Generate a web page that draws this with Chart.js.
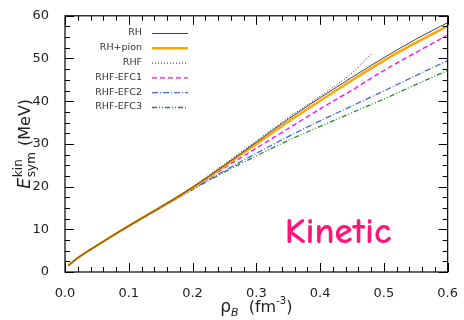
<!DOCTYPE html>
<html>
<head>
<meta charset="utf-8">
<script src="https://cdn.jsdelivr.net/npm/chart.js@4"></script>
<style>
  html, body { margin: 0; padding: 0; background: #fff; }
  #wrap { width: 464px; height: 320px; }
</style>
</head>
<body>
<div id="wrap"><canvas id="chart" width="464" height="320"></canvas></div>
<script>
// density grid (fm^-3)
const rho = [0.005, 0.02, 0.05, 0.1, 0.15, 0.2, 0.25, 0.3, 0.35, 0.4, 0.45, 0.5, 0.55, 0.6];
const rhoRHF = [0.005, 0.02, 0.05, 0.1, 0.15, 0.2, 0.25, 0.3, 0.35, 0.4, 0.45, 0.48];

// kinetic symmetry energy (MeV)
const eRH     = [1.5, 3.3, 6.2, 10.8, 15.2, 19.8, 25.0, 30.4, 35.8, 40.8, 45.6, 50.2, 54.5, 58.4];
const eRHpion = [1.5, 3.3, 6.2, 10.8, 15.2, 19.7, 24.8, 30.0, 35.2, 40.1, 44.9, 49.5, 53.7, 57.6];
const eRHF    = [1.5, 3.3, 6.2, 10.8, 15.3, 20.0, 25.3, 30.7, 36.1, 41.2, 46.6, 51.0];
const eEFC1   = [1.5, 3.3, 6.2, 10.8, 15.1, 19.6, 24.4, 29.0, 33.6, 38.2, 42.6, 47.2, 51.4, 55.5];
const eEFC2   = [1.5, 3.3, 6.2, 10.7, 15.0, 19.4, 23.7, 27.8, 31.7, 35.4, 38.9, 42.4, 46.0, 49.5];
const eEFC3   = [1.5, 3.3, 6.2, 10.7, 15.0, 19.3, 23.4, 27.2, 30.8, 34.1, 37.3, 40.5, 43.9, 47.2];

const labels = ['RH', 'RH+pion', 'RHF', 'RHF-EFC1', 'RHF-EFC2', 'RHF-EFC3'];
const xTicks = [0, 0.1, 0.2, 0.3, 0.4, 0.5, 0.6];
const yTicks = [0, 10, 20, 30, 40, 50, 60];

function pts(xs, ys) {
  return ys.map((y, i) => ({ x: xs[i], y: y }));
}

const FONT = 'DejaVu Sans';

// frame with inward ticks on all four sides
const framePlugin = {
  id: 'frame',
  afterDatasetsDraw(chart) {
    const ctx = chart.ctx;
    const a = chart.chartArea;
    const xs = chart.scales.x, ys = chart.scales.y;
    ctx.save();
    ctx.strokeStyle = '#000';
    ctx.lineWidth = 1;
    ctx.beginPath();
    for (let v = 0; v <= 0.6001; v += 0.02) {
      const px = Math.round(xs.getPixelForValue(v)) + 0.5;
      const major = Math.abs(v * 10 - Math.round(v * 10)) < 1e-6;
      const len = major ? 9 : 5;
      ctx.moveTo(px, a.bottom); ctx.lineTo(px, a.bottom - len);
      ctx.moveTo(px, a.top); ctx.lineTo(px, a.top + len);
    }
    for (let v = 0; v <= 60.001; v += 2.5) {
      const py = Math.round(ys.getPixelForValue(v)) + 0.5;
      const major = v % 10 === 0;
      const len = major ? 9 : 5;
      ctx.moveTo(a.left, py); ctx.lineTo(a.left + len, py);
      ctx.moveTo(a.right, py); ctx.lineTo(a.right - len, py);
    }
    ctx.stroke();
    ctx.lineWidth = 1.2;
    ctx.strokeRect(a.left, a.top, a.right - a.left, a.bottom - a.top);
    ctx.restore();
  }
};

// legend: right-aligned text, line sample to the right
const legendPlugin = {
  id: 'sideLegend',
  afterDatasetsDraw(chart) {
    const ctx = chart.ctx;
    ctx.save();
    ctx.font = '9.5px ' + FONT;
    ctx.textAlign = 'right';
    ctx.textBaseline = 'middle';
    chart.data.datasets.forEach((ds, i) => {
      const y = 33 + i * 14.8;
      ctx.fillStyle = '#333';
      ctx.fillText(ds.label, 142, y);
      ctx.strokeStyle = ds.borderColor;
      ctx.lineWidth = ds.borderWidth;
      ctx.setLineDash(ds.borderDash || []);
      ctx.beginPath();
      ctx.moveTo(152, y + 0.5);
      ctx.lineTo(188, y + 0.5);
      ctx.stroke();
    });
    ctx.restore();
  }
};

// axis titles with sub/superscripts and the "Kinetic" tag
const textPlugin = {
  id: 'texts',
  afterDraw(chart) {
    const ctx = chart.ctx;
    const a = chart.chartArea;
    ctx.save();
    ctx.fillStyle = '#222';
    ctx.textBaseline = 'alphabetic';

    // y title
    ctx.translate(30, (a.top + a.bottom) / 2);
    ctx.rotate(-Math.PI / 2);
    ctx.font = 'italic 17px ' + FONT; const wE = ctx.measureText('E').width;
    ctx.font = '12px ' + FONT; const wS = Math.max(ctx.measureText('kin').width, ctx.measureText('sym').width);
    ctx.font = '16px ' + FONT; const wM = ctx.measureText(' (MeV)').width;
    const x0 = -(wE + wS + 2 + wM) / 2;
    ctx.textAlign = 'left';
    ctx.font = 'italic 17px ' + FONT; ctx.fillText('E', x0, 0);
    ctx.font = '12px ' + FONT;
    ctx.fillText('kin', x0 + wE + 1, -8);
    ctx.fillText('sym', x0 + wE + 1, 5);
    ctx.font = '16px ' + FONT; ctx.fillText(' (MeV)', x0 + wE + wS + 2, 0);
    ctx.setTransform(1, 0, 0, 1, 0, 0);

    // x title
    const cx = (a.left + a.right) / 2, by = 312;
    ctx.font = '17px ' + FONT; const wr = ctx.measureText('\u03c1').width;
    ctx.font = 'italic 11px ' + FONT; const wb = ctx.measureText('B').width;
    ctx.font = '16px ' + FONT; const wf = ctx.measureText('  (fm').width;
    ctx.font = '10px ' + FONT; const w3 = ctx.measureText('-3').width;
    ctx.font = '16px ' + FONT; const wp = ctx.measureText(')').width;
    let xx = cx - (wr + wb + wf + w3 + wp) / 2;
    ctx.font = '17px ' + FONT; ctx.fillText('\u03c1', xx, by); xx += wr;
    ctx.font = 'italic 11px ' + FONT; ctx.fillText('B', xx, by + 4); xx += wb;
    ctx.font = '16px ' + FONT; ctx.fillText('  (fm', xx, by); xx += wf;
    ctx.font = '10px ' + FONT; ctx.fillText('-3', xx, by - 8); xx += w3;
    ctx.font = '16px ' + FONT; ctx.fillText(')', xx, by);

    // tag
    ctx.font = 'bold 37px "Comic Sans MS", "Comic Neue", ' + FONT;
    ctx.fillStyle = '#ff1478';
    ctx.textAlign = 'center';
    ctx.fillText('Kinetic', 338, 243);
    ctx.restore();
  }
};

new Chart(document.getElementById('chart'), {
  type: 'line',
  data: {
    datasets: [
      { label: labels[0], data: pts(rho, eRH), borderColor: '#404040', borderWidth: 1, borderDash: [] },
      { label: labels[1], data: pts(rho, eRHpion), borderColor: '#ffa500', borderWidth: 2.5, borderDash: [] },
      { label: labels[2], data: pts(rhoRHF, eRHF), borderColor: '#222', borderWidth: 1, borderDash: [1, 2] },
      { label: labels[3], data: pts(rho, eEFC1), borderColor: '#ff00ff', borderWidth: 1.3, borderDash: [5, 3] },
      { label: labels[4], data: pts(rho, eEFC2), borderColor: '#4169e1', borderWidth: 1.3, borderDash: [6, 2, 1, 2] },
      { label: labels[5], data: pts(rho, eEFC3), borderColor: '#228b22', borderWidth: 1.3, borderDash: [5, 2, 1, 2, 1, 2] }
    ]
  },
  options: {
    responsive: false,
    animation: false,
    layout: { padding: { top: 10, right: 12, left: 0, bottom: 0 } },
    elements: { point: { radius: 0 }, line: { tension: 0.4, cubicInterpolationMode: 'monotone' } },
    plugins: { legend: { display: false }, tooltip: { enabled: false } },
    scales: {
      x: {
        type: 'linear', min: 0, max: 0.6,
        grid: { display: false }, border: { display: false },
        afterBuildTicks: s => { s.ticks = xTicks.map(v => ({ value: v })); },
        afterFit: s => { s.height = 48; },
        ticks: { padding: 6, color: '#222', font: { family: FONT, size: 13 }, maxRotation: 0,
                 callback: v => v.toFixed(1) }
      },
      y: {
        type: 'linear', min: 0, max: 60,
        grid: { display: false }, border: { display: false },
        afterBuildTicks: s => { s.ticks = yTicks.map(v => ({ value: v })); },
        afterFit: s => { s.width = 65; },
        ticks: { padding: 8, color: '#222', font: { family: FONT, size: 13 } }
      }
    }
  },
  plugins: [framePlugin, legendPlugin, textPlugin]
});
</script>
</body>
</html>
